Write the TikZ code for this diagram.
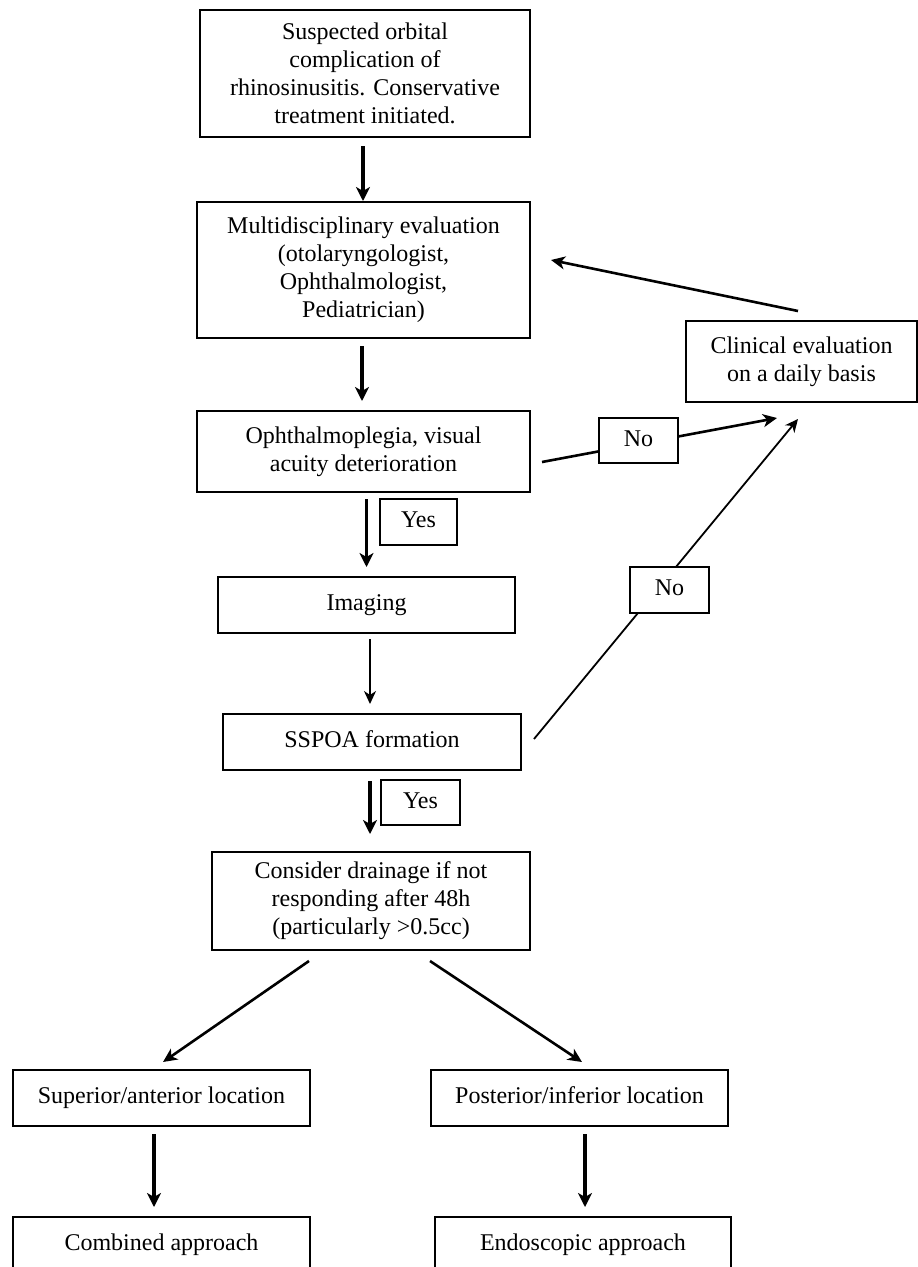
\documentclass[tikz,border=0pt]{standalone}
\usepackage{fontspec}
\setmainfont{Liberation Serif}
\usetikzlibrary{arrows.meta,calc}
\tikzset{
  box/.style={draw, line width=2pt, rectangle, inner sep=0pt, align=center,
    font=\fontsize{24}{28}\selectfont},
  one/.style={box, text height=16pt, text depth=5pt},
  lbl/.style={one, fill=white, minimum width=79pt, minimum height=45pt},
  arr/.style={line width=3.2pt, -{Stealth[length=14pt,width=14pt,inset=4pt]}},
  tarr/.style={line width=1.8pt, -{Stealth[length=13pt,width=12pt,inset=4pt]}},
  darr/.style={line width=2.6pt, -{Stealth[length=14pt,width=13pt,inset=4pt]}}
}
\begin{document}
\begin{tikzpicture}[x=1pt,y=-1pt]
\clip (0,0) rectangle (918,1267);
\fill[white] (0,0) rectangle (918,1267);
% boxes
\node[box, minimum width=330pt, minimum height=127pt] (b1) at (365,73.5)
  {Suspected orbital\\complication of\\rhinosinusitis. Conservative\\treatment initiated.};
\node[box, minimum width=333pt, minimum height=136pt] (b2) at (363.5,270)
  {Multidisciplinary evaluation\\(otolaryngologist,\\Ophthalmologist,\\Pediatrician)};
\node[box, minimum width=333pt, minimum height=81pt] (b3) at (363.5,451.5)
  {Ophthalmoplegia, visual\\acuity deterioration};
\node[box, minimum width=231pt, minimum height=81pt] (clin) at (801.5,361.5)
  {Clinical evaluation\\on a daily basis};
\node[one, minimum width=297pt, minimum height=56pt] (img) at (366.5,605) {Imaging};
\node[one, minimum width=298pt, minimum height=56pt] (sspoa) at (372,742) {SSPOA formation};
\node[box, minimum width=318pt, minimum height=98pt] (cons) at (371,901)
  {Consider drainage if not\\responding after 48h\\(particularly >0.5cc)};
\node[one, minimum width=297pt, minimum height=56pt] (sup) at (161.5,1098) {Superior/anterior location};
\node[one, minimum width=297pt, minimum height=56pt] (post) at (579.5,1098) {Posterior/inferior location};
\node[one, minimum width=297pt, minimum height=56pt] (comb) at (161.5,1245) {Combined approach};
\node[one, minimum width=296pt, minimum height=56pt] (endo) at (583,1245) {Endoscopic approach};
% yes labels
\node[lbl, minimum width=77pt, minimum height=46pt] (yes1) at (418.5,522) {Yes};
\node[lbl] (yes2) at (420.5,802.5) {Yes};
% vertical arrows
\draw[arr, shorten <=8pt] ($(b1.south)+(-2,0)$) -- ($(b2.north)+(-0.5,0)$);
\draw[arr, shorten <=7pt, shorten >=9pt] ($(b2.south)+(-1.5,0)$) -- ($(b3.north)+(-1.5,0)$);
\draw[arr, shorten <=6pt, shorten >=9pt] (img.north |- b3.south) -- (img.north);
\draw[tarr, shorten <=5pt, shorten >=9pt] ($(sspoa.north |- img.south)+(-2,0)$) -- ($(sspoa.north)+(-2,0)$);
\draw[arr, shorten <=10pt, shorten >=17pt] ($(sspoa.south)+(-2,0)$) -- ($(sspoa.south |- cons.north)+(-2,0)$);
\draw[darr] ($(cons.south)+(-62,10)$) -- ($(sup.north)+(1.5,-7)$);
\draw[darr] ($(cons.south)+(59,10)$) -- ($(post.north)+(2.5,-7)$);
\draw[arr] ($(sup.south)+(-7.5,7)$) -- ($(comb.north)+(-7.5,-9)$);
\draw[arr] ($(post.south)+(5.5,7)$) -- ($(endo.north)+(2,-9)$);
% feedback arrows
\coordinate (s1) at ($(b3.east)+(11,10.5)$);
\coordinate (t1) at ($(clin.south)+(-24.5,15)$);
\coordinate (s2) at ($(sspoa.east)+(12,-3)$);
\coordinate (t2) at ($(clin.south)+(-3.5,16)$);
\coordinate (s3) at ($(clin.north)+(-3.5,-9)$);
\coordinate (t3) at ($(b2.east)+(20,-10)$);
\draw[darr] (s1) -- (t1);
\draw[tarr] (s2) -- (t2);
\draw[darr] (s3) -- (t3);
\node[lbl] (no1) at (638.5,440.5) {No};
\node[lbl, minimum height=46pt] (no2) at (669.5,590) {No};
\end{tikzpicture}
\end{document}
